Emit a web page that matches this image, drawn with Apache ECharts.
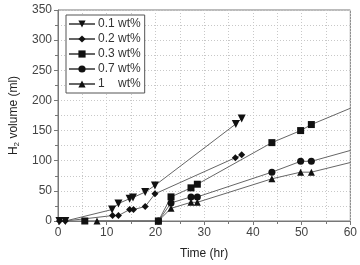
<!DOCTYPE html>
<html lang="en">
<head>
    <meta charset="UTF-8">
    <title>H2 volume</title>
    <style>
        html, body { margin: 0; padding: 0; background: #fff; }
    </style>
    <script src="https://cdn.jsdelivr.net/npm/echarts@6/dist/echarts.min.js"></script>
</head>
<body>
    <div id="main" style="width: 360px;height:265px;"></div>
    <script type="text/javascript">
        // series data: [time (hr), volume (ml)]
        var names = ['0.1 wt%', '0.2 wt%', '0.3 wt%', '0.7 wt%', '1    wt%'];
        var symbols = ['path://M0,0 L10,0 L5,9 Z', 'diamond', 'rect', 'circle', 'triangle'];
        var pts01 = [[0.3, 0], [1.5, 0], [11.1, 19], [12.4, 29], [14.7, 37], [15.4, 39], [17.9, 48], [19.9, 59], [36.5, 161], [37.7, 170]];
        var pts02 = [[0.3, 0], [1.5, 0], [11.2, 9], [12.4, 9], [14.7, 19], [15.5, 19], [17.9, 24], [19.9, 45], [36.4, 105], [37.7, 110]];
        var pts03 = [[5.5, 0], [20.6, 0], [23.2, 40], [27.3, 55], [28.6, 61], [43.9, 130], [49.8, 150], [52, 160]];
        var pts07 = [[20.6, 0], [23.2, 30], [27.3, 40], [28.6, 40], [43.9, 81], [49.8, 99], [52, 99]];
        var pts1 = [[8, 0], [20.6, 0], [23.2, 21], [27.3, 31], [28.6, 31], [43.9, 70], [49.8, 81], [52, 81]];
        // where the drawn lines run on past the last point
        var lineEnds = [null, null, [60, 187], [60, 117], [60, 97]];

        var allPts = [pts01, pts02, pts03, pts07, pts1];

        var series = allPts.map(function (pts, i) {
            var data = pts.map(function (p) { return p; });
            if (lineEnds[i]) {
                data.push({ value: lineEnds[i], symbol: 'none' });
            }
            return {
                name: names[i],
                type: 'line',
                data: data,
                symbol: symbols[i],
                symbolSize: i === 0 ? 8 : 7,
                showSymbol: true,
                itemStyle: { color: '#111' },
                lineStyle: { color: '#666', width: 1 },
                z: 3
            };
        });

        var chart = echarts.init(document.getElementById('main'));
        var dotted = { show: true, lineStyle: { color: '#c8c8c8', type: [1, 2], width: 1 } };
        var option = {
            animation: false,
            textStyle: { fontFamily: 'Liberation Sans, Arial, sans-serif' },
            grid: { left: 58, right: 4, top: 10, bottom: 36, show: true, borderColor: '#777', borderWidth: 1 },
            legend: {
                orient: 'vertical',
                left: 66,
                top: 15,
                padding: [3, 4, 3, 2],
                itemGap: 3,
                itemWidth: 26,
                itemHeight: 9,
                borderColor: '#555',
                borderWidth: 1,
                backgroundColor: '#fff',
                textStyle: { fontSize: 12, color: '#333', padding: [0, 0, 0, -2] },
                data: names
            },
            xAxis: {
                type: 'value',
                min: 0,
                max: 60,
                interval: 10,
                name: 'Time (hr)',
                nameLocation: 'middle',
                nameGap: 27,
                nameTextStyle: { fontSize: 12, color: '#222' },
                axisLine: { lineStyle: { color: '#777' } },
                axisTick: { show: true, lineStyle: { color: '#777' }, length: 4 },
                minorTick: { show: true, splitNumber: 2, length: 3, lineStyle: { color: '#777' } },
                axisLabel: { fontSize: 12, color: '#444', margin: 6 },
                splitLine: dotted,
                minorSplitLine: dotted
            },
            yAxis: {
                type: 'value',
                min: 0,
                max: 350,
                interval: 50,
                name: '{a|H}{s|2}{a| volume (ml)}',
                nameLocation: 'middle',
                nameGap: 36,
                nameTextStyle: {
                    rich: {
                        a: { fontSize: 12, color: '#222' },
                        s: { fontSize: 8, color: '#222', verticalAlign: 'bottom', padding: [6, 0, 0, 0] }
                    }
                },
                axisLine: { show: true, lineStyle: { color: '#777' } },
                axisTick: { show: true, lineStyle: { color: '#777' }, length: 4 },
                minorTick: { show: true, splitNumber: 2, length: 3, lineStyle: { color: '#777' } },
                axisLabel: { fontSize: 12, color: '#444', margin: 6 },
                splitLine: dotted,
                minorSplitLine: dotted
            },
            series: series
        };
        chart.setOption(option);
    </script>
</body>
</html>
